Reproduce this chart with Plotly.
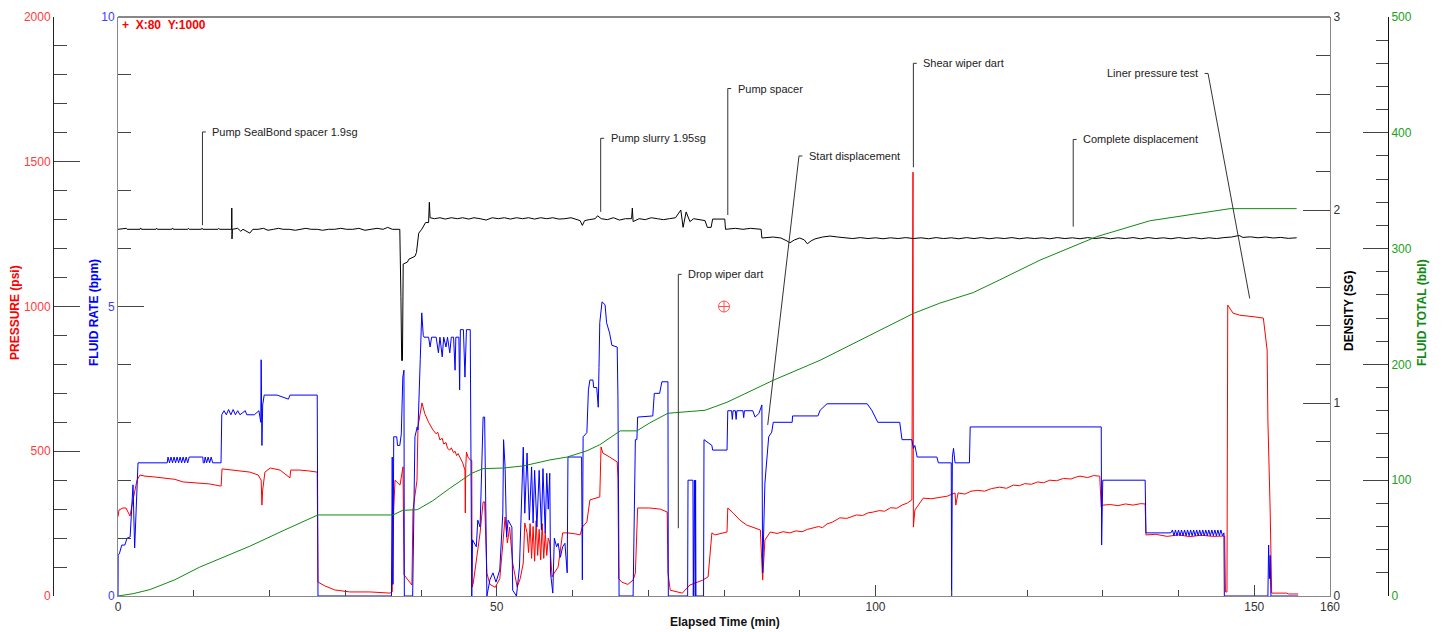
import plotly.graph_objects as go

W, H = 1447, 632

# ---------------- data (time in minutes) ----------------
pressure_points = [
    (0, 274), (0.13, 297), (0.66, 304), (1.06, 304), (1.32, 290), (1.58, 276), (1.98, 332), (2.51, 400),
    (2.9, 418), (3.56, 414), (4.9, 411), (6.5, 407), (7.5, 403), (8.6, 394), (9.6, 392), (10.8, 390),
    (12.1, 387), (13.5, 380), (13.62, 380), (13.73, 439), (15.4, 435), (16.5, 432), (17.4, 428),
    (18.5, 418), (18.9, 400), (19.0, 314), (19.1, 366), (19.4, 428), (20.1, 442), (21.4, 435),
    (22.7, 408), (22.8, 435), (24.0, 435), (25.2, 432), (26.3, 428), (26.4, 48), (27.3, 35),
    (28.6, 21), (30.6, 14), (33.3, 14), (35.9, 10), (36.2, 14), (36.4, 300), (36.57, 400),
    (36.83, 394), (37.23, 383), (37.62, 446), (37.76, 73), (38.8, 38), (38.94, 297), (39.47, 400),
    (39.6, 584), (40.13, 667), (40.5, 630), (41.0, 600), (41.3, 585), (41.6, 573), (42.0, 560),
    (42.2, 566), (42.5, 539), (42.8, 545), (43.0, 525), (43.3, 530), (43.5, 510), (43.8, 504),
    (44.0, 512), (44.3, 495), (44.5, 500), (44.7, 485), (44.9, 492), (45.1, 480), (45.3, 470),
    (45.5, 460), (45.8, 435), (45.85, 287), (45.9, 440), (46.0, 497), (46.2, 480), (46.5, 470),
    (46.7, 468), (46.75, 31),
    (46.9, 45), (47.8, 218), (48.2, 325), (48.4, 325), (48.7, 79), (49.1, 40), (49.8, 30),
    (50.4, 60), (50.7, 149), (51.1, 273), (51.4, 183), (51.7, 238), (52.1, 114), (52.7, 31),
    (53.1, 60), (53.5, 114), (53.7, 252), (54.0, 218), (54.2, 150), (54.4, 250), (54.6, 130),
    (54.8, 240), (55.0, 120), (55.2, 260), (55.4, 140), (55.6, 230), (55.8, 125), (56.0, 250),
    (56.2, 130), (56.4, 220), (56.6, 140), (56.8, 200), (57.0, 183), (57.3, 66), (57.4, 72),
    (58.1, 100), (58.7, 218), (59.3, 218), (60.3, 215), (61.0, 211), (61.3, 238), (61.9, 256),
    (62.3, 332), (63.0, 338), (63.6, 342), (63.77, 515), (64.0, 494), (64.9, 480), (65.9, 463),
    (66.0, 408), (66.1, 60), (66.5, 48), (67.3, 40), (68.0, 55), (68.3, 79), (68.6, 304),
    (70.2, 304), (71.6, 300), (72.5, 290), (72.6, 80), (72.9, 20), (74.5, 10), (75.5, 38),
    (77.2, 55), (77.9, 66), (78.4, 218), (78.8, 211), (80.4, 221), (80.5, 304), (81.2, 287),
    (82.1, 262), (83.0, 245), (84.8, 228), (85.1, 55), (85.4, 193), (86.1, 221), (87.0, 216),
    (87.8, 222), (88.7, 218), (89.5, 225), (90.3, 222), (91.0, 230), (91.7, 235), (92.5, 240),
    (93.0, 236), (93.6, 249), (94.3, 255), (94.8, 263), (95.3, 270), (96.2, 268), (97.0, 277),
    (97.5, 280), (98.3, 278), (99.0, 287), (99.7, 290), (100.5, 295), (101.2, 293), (102.0, 305),
    (102.8, 303), (103.5, 314), (104.2, 321), (104.8, 332), (104.95, 1464), (105.0, 238),
    (105.2, 297), (106.3, 338), (107.4, 336), (108.5, 342), (109.5, 345), (110.5, 356),
    (110.6, 314), (110.9, 356), (111.8, 352), (112.6, 362), (113.5, 365), (114.4, 362),
    (115.3, 371), (116.4, 376), (117.3, 372), (118.2, 383), (119.0, 381), (119.7, 388),
    (120.6, 386), (121.4, 394), (122.2, 391), (123.0, 400), (123.9, 398), (124.8, 406),
    (125.8, 404), (126.5, 411), (127.0, 414), (128.0, 409), (128.8, 416), (129.6, 414),
    (129.8, 307), (130.0, 314), (131.0, 316), (132.0, 312), (133.0, 318), (134.0, 314),
    (135.0, 319), (135.6, 318), (135.7, 211), (137.0, 213), (138.5, 206), (140.0, 211),
    (141.5, 205), (143.0, 210), (144.5, 206), (146.1, 207), (146.2, 14), (146.4, 14),
    (146.5, 1005), (147.2, 977), (148.1, 970), (150.1, 964), (151.2, 960), (151.7, 850),
    (151.8, 608), (152.1, 297), (152.2, 38), (152.3, 10), (154.3, 10), (154.5, 7), (155.8, 7),
]

rate_points = [
    (0, 0), (0.02, 0.7), (0.2, 0.74), (0.5, 0.88), (0.9, 0.88), (1.2, 1.0), (1.6, 1.02), (1.8, 1.66),
    (1.98, 1.92), (2.2, 0.83), (2.5, 1.71), (2.64, 2.30), (6.5, 2.30), (6.6, 2.40), (6.8, 2.30),
    (7.0, 2.40), (7.2, 2.30), (7.4, 2.40), (7.6, 2.30), (7.8, 2.40), (8.0, 2.30), (8.2, 2.40),
    (8.4, 2.30), (8.6, 2.40), (8.8, 2.30), (9.0, 2.40), (9.2, 2.30), (9.4, 2.40), (11.2, 2.40),
    (11.25, 2.30), (11.4, 2.30), (11.5, 2.40), (11.7, 2.30), (11.9, 2.40), (12.1, 2.30),
    (12.3, 2.40), (12.5, 2.30), (13.6, 2.30), (13.7, 3.13), (14.0, 3.2), (14.3, 3.13),
    (14.6, 3.22), (14.9, 3.13), (15.2, 3.22), (15.5, 3.13), (15.8, 3.2), (16.1, 3.13),
    (16.8, 3.2), (17.0, 3.13), (18.0, 3.13), (18.6, 3.2), (18.85, 3.0), (18.9, 4.08), (19.0, 2.6),
    (19.1, 3.3), (19.3, 3.47), (21.0, 3.47), (22.5, 3.4), (22.7, 3.47), (26.3, 3.47), (26.4, 0),
    (36.1, 0), (36.2, 2.4), (36.3, 0.2), (36.4, 2.75), (36.8, 2.75), (36.9, 2.6), (37.2, 2.6),
    (37.4, 2.8), (37.6, 3.78), (37.75, 3.9), (37.8, 0), (38.9, 0), (39.2, 2.75), (39.5, 2.92),
    (39.6, 2.87), (39.9, 4.08), (40.1, 4.89), (40.3, 4.5), (40.4, 4.47), (41.0, 4.47),
    (41.2, 4.3), (41.4, 4.47), (42.0, 4.47), (42.3, 4.2), (42.5, 4.47), (42.8, 4.13),
    (43.0, 4.47), (43.3, 4.3), (43.5, 4.47), (43.8, 4.2), (44.0, 4.47), (44.3, 4.47),
    (44.5, 3.9), (44.6, 4.47), (45.0, 4.47), (45.1, 3.56), (45.2, 4.6), (45.6, 4.6),
    (45.8, 3.78), (46.0, 4.6), (46.5, 4.6), (46.7, 0), (46.8, 0.97), (47.3, 0.85), (47.5, 1.31),
    (47.8, 1.19), (48.0, 2.12), (48.2, 3.09), (48.4, 3.09), (48.7, 0), (49.1, 0.28), (49.5, 0.4),
    (49.9, 0.24), (50.4, 0.45), (50.8, 1.43), (50.9, 2.7), (51.1, 2.23), (51.3, 1.02),
    (51.5, 1.31), (52.0, 1.19), (52.1, 0.1), (52.6, 0), (53.0, 0.5), (53.5, 2.57), (53.7, 1.43),
    (54.0, 2.47), (54.3, 1.31), (54.6, 2.23), (54.8, 1.26), (55.0, 2.17), (55.3, 1.19),
    (55.6, 2.17), (55.9, 1.14), (56.1, 2.2), (56.4, 1.09), (56.6, 2.12), (56.8, 1.5),
    (57.0, 2.12), (57.1, 0.4), (57.4, 0.05), (57.6, 1.0), (57.9, 0.85), (58.1, 0.91),
    (58.4, 0.67), (58.7, 0.85), (59.0, 0.91), (59.3, 0.4), (59.4, 2.4), (61.2, 2.4),
    (61.3, 0.28), (61.4, 2.75), (61.9, 2.82), (62.1, 3.56), (62.3, 3.73), (62.7, 3.73),
    (62.8, 3.6), (63.2, 3.6), (63.4, 3.26), (63.5, 3.95), (63.6, 4.72), (63.9, 5.08),
    (64.3, 5.03), (64.5, 4.72), (64.9, 4.54), (65.2, 4.33), (65.9, 4.3), (66.0, 3.44),
    (66.15, 0), (68.0, 0), (68.3, 2.7), (68.5, 2.7), (68.6, 3.09), (70.6, 3.11), (70.8, 3.5),
    (71.5, 3.5), (71.8, 3.7), (72.6, 3.7), (72.65, 0), (75.2, 0), (75.25, 2.0), (75.9, 2.0),
    (75.95, 0), (76.1, 2.0), (76.2, 0), (76.25, 2.0), (76.3, 0), (77.3, 0), (77.36, 2.7),
    (78.4, 2.6), (78.5, 2.52), (80.4, 2.52), (80.5, 3.2), (81.0, 3.2), (81.1, 3.05), (81.2, 3.2),
    (81.5, 3.2), (81.6, 3.05), (81.7, 3.2), (82.5, 3.2), (82.6, 3.08), (82.7, 3.2), (83.8, 3.2),
    (84.1, 3.09), (84.6, 3.15), (85.0, 3.3), (85.05, 1.19), (85.1, 0.4), (85.4, 1.95),
    (85.7, 2.47), (85.9, 2.75), (86.3, 2.83), (86.5, 3.0), (89.0, 3.0), (89.05, 3.11),
    (92.4, 3.11), (92.7, 3.21), (93.6, 3.32), (98.9, 3.32), (99.5, 3.21), (100.3, 3.0),
    (103.2, 3.0), (103.5, 2.7), (104.8, 2.7), (105.0, 2.55), (105.2, 2.6), (105.5, 2.4),
    (108.1, 2.4), (108.3, 2.3), (110.0, 2.3), (110.05, 0), (110.15, 2.4), (110.3, 2.55),
    (110.5, 2.3), (112.4, 2.3), (112.5, 2.92), (129.8, 2.92), (129.85, 0.88), (130.0, 2.0),
    (135.6, 2.0), (135.7, 1.09), (139.0, 1.09), (139.2, 1.14), (139.4, 1.04), (139.6, 1.14),
    (139.8, 1.04), (140.0, 1.14), (140.2, 1.04), (140.4, 1.14), (140.6, 1.04), (140.8, 1.14),
    (141.0, 1.04), (141.2, 1.14), (141.4, 1.04), (141.6, 1.14), (141.8, 1.04), (142.0, 1.14),
    (142.2, 1.04), (142.4, 1.14), (142.6, 1.04), (142.8, 1.14), (143.0, 1.04), (143.2, 1.14),
    (143.4, 1.04), (143.6, 1.14), (143.8, 1.04), (144.0, 1.14), (144.2, 1.04), (144.4, 1.14),
    (144.6, 1.04), (144.8, 1.14), (145.0, 1.04), (145.2, 1.14), (145.4, 1.04), (145.6, 1.14),
    (145.8, 1.04), (146.0, 1.09), (146.05, 0), (151.8, 0), (151.9, 0.88),
    (152.0, 0.3), (152.1, 0.7), (152.2, 0), (155.8, 0),
]

density_points = [
    (0, 1.90), (1.1, 1.905), (1.2, 1.90), (2.9, 1.90), (3.0, 1.907), (3.1, 1.90), (5.0, 1.90),
    (5.1, 1.906), (5.2, 1.90), (7.1, 1.90), (7.2, 1.907), (7.3, 1.90), (9.2, 1.90), (9.3, 1.905),
    (9.4, 1.90), (11.0, 1.90), (11.1, 1.906), (11.2, 1.90), (13.2, 1.90), (13.3, 1.905),
    (13.4, 1.90), (15.0, 1.90),
    (15.02, 2.01), (15.05, 1.85), (15.1, 1.90), (15.8, 1.905), (16.2, 1.89), (16.5, 1.90),
    (17.0, 1.89), (17.4, 1.88), (17.8, 1.90), (18.5, 1.90), (19.2, 1.905), (19.8, 1.895),
    (20.5, 1.90), (21.2, 1.905), (21.8, 1.90), (22.6, 1.90), (23.4, 1.895), (24.0, 1.90),
    (24.8, 1.905), (25.5, 1.90), (26.3, 1.90), (27.0, 1.895), (27.8, 1.90), (28.6, 1.90),
    (29.4, 1.905), (30.2, 1.90), (31.0, 1.90), (31.8, 1.905), (32.6, 1.895), (33.4, 1.90),
    (34.2, 1.905), (35.0, 1.90), (35.6, 1.91), (36.2, 1.90), (37.2, 1.90), (37.35, 1.55),
    (37.45, 1.22), (37.55, 1.22), (37.65, 1.72), (38.2, 1.73), (38.4, 1.745), (39.2, 1.76),
    (39.4, 1.78), (39.7, 1.88), (40.1, 1.90), (40.6, 1.935), (41.0, 1.935), (41.1, 2.04),
    (41.2, 1.96), (41.8, 1.955), (42.5, 1.96), (43.2, 1.953), (44.0, 1.96), (44.8, 1.955),
    (45.5, 1.96), (46.3, 1.953), (47.0, 1.96), (47.8, 1.955), (48.6, 1.948), (49.4, 1.96),
    (50.2, 1.955), (51.0, 1.96), (51.8, 1.953), (52.6, 1.96), (53.4, 1.955), (54.2, 1.96),
    (55.0, 1.953), (55.8, 1.96), (56.6, 1.955), (57.4, 1.96), (58.2, 1.953), (59.0, 1.955),
    (59.8, 1.96), (60.6, 1.95), (61.0, 1.945), (61.3, 1.92), (61.6, 1.945), (62.2, 1.95),
    (63.0, 1.955), (63.3, 1.97), (63.8, 1.955), (64.6, 1.95), (65.4, 1.96), (66.2, 1.948),
    (67.0, 1.955), (67.8, 1.955), (67.9, 2.01), (68.0, 1.94), (68.8, 1.955), (69.6, 1.95),
    (70.4, 1.96), (71.2, 1.955), (72.0, 1.95), (72.8, 1.955), (73.6, 1.96), (74.3, 2.00),
    (74.6, 1.91), (75.0, 1.99), (75.5, 1.94), (76.0, 1.955), (76.8, 1.95), (77.5, 1.945),
    (77.8, 1.91), (78.3, 1.91), (78.5, 1.953), (80.1, 1.953), (80.2, 1.90), (81.5, 1.905),
    (82.5, 1.90), (83.5, 1.905), (84.9, 1.90), (85.0, 1.855), (86.5, 1.86), (87.5, 1.855),
    (88.3, 1.84), (88.7, 1.83), (89.3, 1.845), (90.0, 1.855), (90.6, 1.845), (91.0, 1.825),
    (91.5, 1.84), (92.0, 1.85), (93.0, 1.86), (94.0, 1.865), (95.0, 1.86), (96.0, 1.855),
    (97.0, 1.852), (98.0, 1.857), (99.0, 1.852), (100.0, 1.856), (101.0, 1.851), (102.0, 1.856),
    (103.0, 1.852), (104.0, 1.857), (105.0, 1.852), (106.0, 1.856), (107.0, 1.851), (108.0, 1.857),
    (109.0, 1.852), (110.0, 1.856), (111.0, 1.851), (112.0, 1.857), (113.0, 1.852), (114.0, 1.857),
    (115.0, 1.851), (116.0, 1.856), (117.0, 1.852), (118.0, 1.857), (119.0, 1.851), (120.0, 1.856),
    (121.0, 1.852), (122.0, 1.856), (123.0, 1.851), (124.0, 1.857), (125.0, 1.852), (126.0, 1.856),
    (127.0, 1.851), (128.0, 1.857), (129.0, 1.852), (130.0, 1.857), (131.0, 1.851), (132.0, 1.856),
    (133.0, 1.852), (134.0, 1.857), (135.0, 1.851), (136.0, 1.857), (137.0, 1.852), (138.0, 1.856),
    (139.0, 1.851), (140.0, 1.857), (141.0, 1.852), (142.0, 1.857), (143.0, 1.851), (144.0, 1.856),
    (145.0, 1.852), (146.0, 1.857), (147.0, 1.86), (148.0, 1.868), (148.5, 1.858), (149.5, 1.861),
    (150.5, 1.856), (151.5, 1.86), (152.5, 1.855), (153.5, 1.858), (154.5, 1.853), (155.6, 1.856),
]

total_points = [
    (0, 0), (2.0, 2), (4.2, 5.5), (7.5, 14), (10.8, 25), (14.0, 34), (17.4, 43), (22.0, 57),
    (26.4, 70), (36.3, 70), (37.6, 74), (39.5, 74.5), (41.5, 82), (43.8, 93), (46.7, 106),
    (48.2, 110), (50.8, 110.5), (53.5, 112.3), (57.0, 117.5), (59.3, 120), (61.9, 125.4),
    (63.6, 130.6), (66.3, 142.6), (68.5, 142.6), (70.2, 149.5), (72.6, 157.8), (77.5, 160.4),
    (80.4, 167.3), (86.5, 186.3), (92.7, 203.6), (100.6, 229.5), (105.0, 244), (108.5, 252.9),
    (112.9, 262), (116.4, 273), (121.7, 290), (129.2, 310.3), (136.2, 324), (146.8, 334.5),
    (155.6, 334.5),
]

# event annotations: label text, leader top (time, psi), leader tip (time, psi), text side
event_labels = ["Pump SealBond spacer 1.9sg", "Pump slurry 1.95sg", "Pump spacer",
                "Start displacement", "Drop wiper dart", "Shear wiper dart",
                "Complete displacement", "Liner pressure test"]
event_top_t = [11.15, 63.72, 80.5, 89.9, 73.97, 105.0, 126.1, 143.9]
event_top_psi = [1603, 1581, 1753, 1520, 1111, 1840, 1577, 1805]
event_tip_t = [11.15, 63.72, 80.5, 85.77, 73.97, 105.0, 126.1, 149.4]
event_tip_psi = [1281, 1327, 1316, 591, 234, 1481, 1276, 1028]
event_text_side = ["right", "right", "right", "right", "right", "right", "right", "left"]

cursor_t, cursor_psi = 80, 1000

# ---------------- figure ----------------
FONT = "Liberation Sans, Arial, sans-serif"
RED, BLUE, BLACK, GREEN = "#ff0000", "#0000ff", "#000000", "#108a10"


def unzip(points):
    return [p[0] for p in points], [p[1] for p in points]


fig = go.Figure()
tx, ty = unzip(total_points)
fig.add_trace(go.Scatter(x=tx, y=ty, yaxis="y4", mode="lines", line=dict(color=GREEN, width=1)))
px_, py_ = unzip(pressure_points)
fig.add_trace(go.Scatter(x=px_, y=py_, yaxis="y", mode="lines", line=dict(color=RED, width=1)))
rx, ry = unzip(rate_points)
fig.add_trace(go.Scatter(x=rx, y=ry, yaxis="y2", mode="lines", line=dict(color=BLUE, width=1)))
dx, dy = unzip(density_points)
fig.add_trace(go.Scatter(x=dx, y=dy, yaxis="y3", mode="lines", line=dict(color=BLACK, width=1)))
fig.add_trace(go.Scatter(x=[cursor_t], y=[cursor_psi], yaxis="y", mode="markers",
                         marker=dict(symbol="circle-cross-open", size=11, color="#ff5050",
                                     line=dict(width=1, color="#ff5050"))))

x0p, x1p = 118 / W, 1330 / W
y0p, y1p = (H - 596) / H, (H - 17) / H
tickc = "#444"

fig.update_layout(
    width=W, height=H, template="none", showlegend=False,
    margin=dict(l=0, r=0, t=0, b=0), paper_bgcolor="white", plot_bgcolor="white",
    font=dict(family=FONT, size=12, color="#222"),
    xaxis=dict(domain=[x0p, x1p], range=[0, 160], anchor="y2", tickmode="array",
               tickvals=[0, 50, 100, 150, 160], ticks="inside", ticklen=11, tickcolor=tickc,
               minor=dict(tickmode="linear", tick0=0, dtick=10, ticks="inside", ticklen=6, tickcolor=tickc),
               showline=True, linecolor="#888", linewidth=1, showgrid=False, zeroline=False,
               tickfont=dict(size=12, color="#333"), automargin=False),
    yaxis=dict(domain=[y0p, y1p], range=[0, 2000], anchor="free", position=53 / W, side="left",
               dtick=500, ticks="inside", ticklen=26, tickcolor=tickc,
               minor=dict(dtick=100, ticks="inside", ticklen=13, tickcolor=tickc),
               showline=True, linecolor="#222", showgrid=False, zeroline=False,
               tickfont=dict(size=12, color="#ff3c3c"), automargin=False),
    yaxis2=dict(domain=[y0p, y1p], range=[0, 10], overlaying="y", anchor="x", side="left",
                dtick=5, ticks="inside", ticklen=26, tickcolor=tickc,
                minor=dict(dtick=1, ticks="inside", ticklen=13, tickcolor=tickc),
                showline=True, linecolor="#888", showgrid=False, zeroline=False,
                tickfont=dict(size=12, color="#3c3cff"), automargin=False),
    yaxis3=dict(domain=[y0p, y1p], range=[0, 3], overlaying="y", anchor="x", side="right",
                dtick=1, ticks="inside", ticklen=27, tickcolor=tickc,
                minor=dict(dtick=0.2, ticks="inside", ticklen=14, tickcolor=tickc),
                showline=True, linecolor="#888", showgrid=False, zeroline=False,
                tickfont=dict(size=12, color="#333"), automargin=False),
    yaxis4=dict(domain=[y0p, y1p], range=[0, 500], overlaying="y", anchor="free",
                position=1388 / W, side="right",
                dtick=100, ticks="inside", ticklen=25, tickcolor=tickc,
                minor=dict(dtick=20, ticks="inside", ticklen=12, tickcolor=tickc),
                showline=True, linecolor="#111", showgrid=False, zeroline=False,
                tickfont=dict(size=12, color="#22a022"), automargin=False),
)

# top border of plot frame
fig.add_shape(type="line", xref="x domain", yref="y domain", x0=0, x1=1, y0=1, y1=1,
              line=dict(color="#111", width=1))

# event leader lines and labels
TICK = 0.45   # minutes
GAP = 1.05    # minutes
for name, tt, tp, ht, hp, side in zip(event_labels, event_top_t, event_top_psi,
                                      event_tip_t, event_tip_psi, event_text_side):
    sgn = 1 if side == "right" else -1
    fig.add_shape(type="line", xref="x", yref="y", x0=tt, y0=tp, x1=ht, y1=hp,
                  line=dict(color="#333", width=1))
    fig.add_shape(type="line", xref="x", yref="y", x0=tt, y0=tp, x1=tt + sgn * TICK, y1=tp,
                  line=dict(color="#333", width=1))
    fig.add_annotation(x=tt + sgn * GAP, y=tp, xref="x", yref="y", text=name, showarrow=False,
                       xanchor="left" if side == "right" else "right", yanchor="middle",
                       font=dict(size=11, color="#222", family=FONT))


# axis titles
def vtitle(text, xpx, ypx, color):
    fig.add_annotation(x=xpx / W, y=(H - ypx) / H, xref="paper", yref="paper", text=f"<b>{text}</b>",
                       textangle=-90, showarrow=False, xanchor="center", yanchor="middle",
                       font=dict(size=12, color=color, family=FONT))


vtitle("PRESSURE (psi)", 15, 313, "#ff0000")
vtitle("FLUID RATE (bpm)", 94, 313, "#0000ff")
vtitle("DENSITY (SG)", 1349, 311, "#000000")
vtitle("FLUID TOTAL (bbl)", 1422, 313, "#108a10")
fig.add_annotation(x=725 / W, y=(H - 622) / H, xref="paper", yref="paper",
                   text="<b>Elapsed Time (min)</b>", showarrow=False, xanchor="center",
                   yanchor="middle", font=dict(size=12, color="#111", family=FONT))

# cursor readout
fig.add_annotation(x=120 / W, y=(H - 25) / H, xref="paper", yref="paper",
                   text=f"<b>+\u00a0\u00a0X:{cursor_t}\u00a0\u00a0Y:{cursor_psi}</b>", showarrow=False,
                   xanchor="left", yanchor="middle", font=dict(size=12, color="#ff0000", family=FONT))

fig.write_html("out.html", config={"displayModeBar": False},
               post_script="document.body.style.margin='0px';document.body.style.overflow='hidden';")
